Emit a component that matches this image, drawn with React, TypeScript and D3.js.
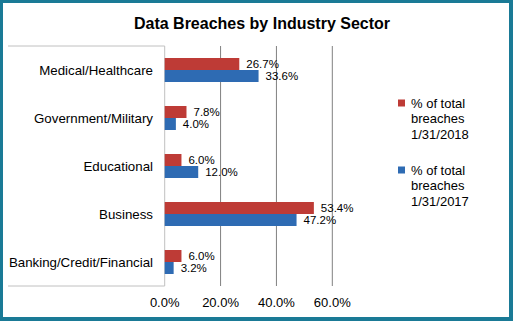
import React from "react";
import * as d3 from "d3";

const categories = [
  "Medical/Healthcare",
  "Government/Military",
  "Educational",
  "Business",
  "Banking/Credit/Financial",
];
const series2018 = [26.7, 7.8, 6.0, 53.4, 6.0];
const series2017 = [33.6, 4.0, 12.0, 47.2, 3.2];
const seriesNames = ["% of total breaches 1/31/2018", "% of total breaches 1/31/2017"];
const legendLines = [
  ["% of total", "breaches", "1/31/2018"],
  ["% of total", "breaches", "1/31/2017"],
];
const xTicks = [0, 20, 40, 60];
const title = "Data Breaches by Industry Sector";

const W = 513;
const H = 321;
const RED = "#be3b36";
const BLUE = "#2e6bb3";
const TEAL = "#1a7a96";
const FONT = "Liberation Sans, Arial, sans-serif";

export default function App() {
  const x = d3.scaleLinear().domain([0, 60]).range([164.7, 332.3]);
  const y = d3.scaleBand<string>().domain(categories).range([46, 286]).padding(0);
  const sub = d3
    .scaleBand<string>()
    .domain(seriesNames)
    .range([y.bandwidth() / 4, (y.bandwidth() * 3) / 4])
    .padding(0);
  const series = [series2018, series2017];
  const colors = [RED, BLUE];

  return (
    <svg
      width={W}
      height={H}
      style={{ position: "absolute", left: 0, top: 0, fontFamily: FONT }}
    >
      <rect x={0} y={0} width={W} height={H} fill={TEAL} />
      <rect x={3} y={3} width={506} height={314} fill="#ffffff" />
      <text
        x={262}
        y={29}
        textAnchor="middle"
        fontSize={16}
        fontWeight="bold"
        fill="#000"
      >
        {title}
      </text>
      <line x1={8} x2={x(0)} y1={46} y2={46} stroke="#c0c0c0" />
      <line x1={8} x2={x(0)} y1={286} y2={286} stroke="#c0c0c0" />
      {xTicks.map((t) => (
        <line
          key={t}
          x1={x(t)}
          x2={x(t)}
          y1={46}
          y2={286}
          stroke={t === 0 ? "#c0c0c0" : "#808080"}
        />
      ))}
      {xTicks.map((t) => (
        <text
          key={"l" + t}
          x={x(t)}
          y={307}
          textAnchor="middle"
          fontSize={13}
          fill="#000"
        >
          {d3.format(".1f")(t) + "%"}
        </text>
      ))}
      {categories.map((c) => (
        <text
          key={c}
          x={153}
          y={(y(c) as number) + y.bandwidth() / 2}
          dy="0.35em"
          textAnchor="end"
          fontSize={13.3}
          fill="#000"
        >
          {c}
        </text>
      ))}
      {series.map((vals, si) =>
        vals.map((v, i) => {
          const c = categories[i];
          const by = (y(c) as number) + (sub(seriesNames[si]) as number);
          return (
            <g key={si + "-" + i}>
              <rect
                x={x(0)}
                y={by}
                width={x(v) - x(0)}
                height={sub.bandwidth()}
                fill={colors[si]}
              />
              <text
                x={x(v) + 7}
                y={by + sub.bandwidth() / 2}
                dy="0.35em"
                fontSize={11.5}
                fill="#000"
              >
                {d3.format(".1f")(v) + "%"}
              </text>
            </g>
          );
        })
      )}
      {legendLines.map((lines, si) => {
        const top = si === 0 ? 103 : 170;
        return (
          <g key={"lg" + si}>
            <rect x={398} y={top - 3.5} width={7} height={7} fill={colors[si]} />
            {lines.map((ln, li) => (
              <text
                key={li}
                x={411}
                y={top + li * 15.5}
                dy="0.35em"
                fontSize={13}
                fill="#000"
              >
                {ln}
              </text>
            ))}
          </g>
        );
      })}
    </svg>
  );
}
